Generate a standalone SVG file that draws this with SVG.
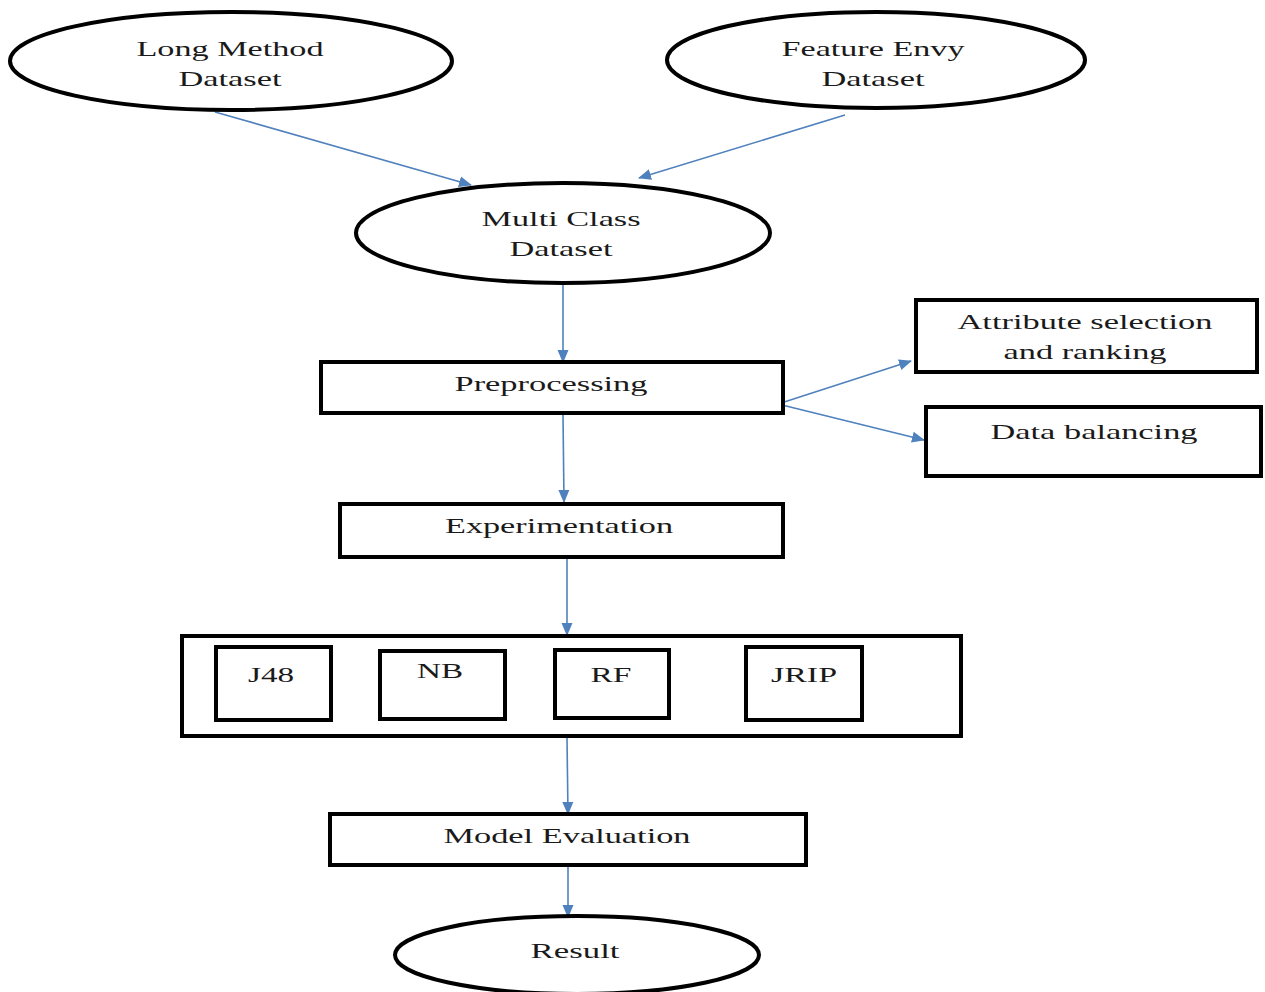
<svg xmlns="http://www.w3.org/2000/svg" width="1265" height="992" viewBox="0 0 1265 992">
<defs>
<style>
.n{fill:#fff;stroke:#000;stroke-width:4}
.t{font-family:"Liberation Serif","Times New Roman",serif;font-size:22px;fill:#1a1a1a;text-anchor:middle}
.c{stroke:#4f81bd;stroke-width:1.6;fill:none;marker-end:url(#ah)}
</style>
<marker id="ah" markerWidth="13" markerHeight="12" refX="12" refY="6" orient="auto" markerUnits="userSpaceOnUse">
<path d="M0,0.5 L13,6 L0,11.5 Z" fill="#4f81bd"/>
</marker>
</defs>
<rect width="1265" height="992" fill="#fff"/>
<g id="connectors">
<line class="c" x1="215" y1="112" x2="471" y2="185"/>
<line class="c" x1="845" y1="115" x2="639" y2="178"/>
<line class="c" x1="563" y1="285" x2="563" y2="362"/>
<line class="c" x1="778" y1="404" x2="911" y2="361"/>
<line class="c" x1="778" y1="404" x2="924" y2="440"/>
<line class="c" x1="563" y1="415" x2="564" y2="502"/>
<line class="c" x1="567" y1="559" x2="567" y2="635"/>
<line class="c" x1="567" y1="738" x2="568" y2="814"/>
<line class="c" x1="568" y1="867" x2="568" y2="917"/>
</g>
<g id="long-method">
<ellipse class="n" cx="231" cy="61" rx="221" ry="49"/>
<text class="t" transform="translate(230,56) scale(1.5,1)" textLength="124.7" lengthAdjust="spacingAndGlyphs">Long Method</text>
<text class="t" transform="translate(230,86) scale(1.5,1)" textLength="68.7" lengthAdjust="spacingAndGlyphs">Dataset</text>
</g>
<g id="feature-envy">
<ellipse class="n" cx="876" cy="60" rx="209" ry="48"/>
<text class="t" transform="translate(873,56) scale(1.5,1)" textLength="122" lengthAdjust="spacingAndGlyphs">Feature Envy</text>
<text class="t" transform="translate(873,86) scale(1.5,1)" textLength="68.7" lengthAdjust="spacingAndGlyphs">Dataset</text>
</g>
<g id="multi-class">
<ellipse class="n" cx="563" cy="233" rx="207" ry="50"/>
<text class="t" transform="translate(561,226) scale(1.5,1)" textLength="106" lengthAdjust="spacingAndGlyphs">Multi Class</text>
<text class="t" transform="translate(561,256) scale(1.5,1)" textLength="68.7" lengthAdjust="spacingAndGlyphs">Dataset</text>
</g>
<g id="preprocessing">
<rect class="n" x="321" y="362" width="462" height="51"/>
<text class="t" transform="translate(551,391) scale(1.5,1)" textLength="128.7" lengthAdjust="spacingAndGlyphs">Preprocessing</text>
</g>
<g id="attribute-selection">
<rect class="n" x="916" y="300" width="341" height="72"/>
<text class="t" transform="translate(1085,329) scale(1.5,1)" textLength="170" lengthAdjust="spacingAndGlyphs">Attribute selection</text>
<text class="t" transform="translate(1085,359) scale(1.5,1)" textLength="108.7" lengthAdjust="spacingAndGlyphs">and ranking</text>
</g>
<g id="data-balancing">
<rect class="n" x="926" y="407" width="335" height="69"/>
<text class="t" transform="translate(1094,439) scale(1.5,1)" textLength="138" lengthAdjust="spacingAndGlyphs">Data balancing</text>
</g>
<g id="experimentation">
<rect class="n" x="340" y="504" width="443" height="53"/>
<text class="t" transform="translate(559,533) scale(1.5,1)" textLength="152" lengthAdjust="spacingAndGlyphs">Experimentation</text>
</g>
<g id="classifiers">
<rect class="n" x="182" y="636" width="779" height="100"/>
</g>
<g id="j48">
<rect class="n" x="216" y="647" width="115" height="73"/>
<text class="t" transform="translate(271,682) scale(1.5,1)" textLength="30.7" lengthAdjust="spacingAndGlyphs">J48</text>
</g>
<g id="nb">
<rect class="n" x="380" y="651" width="125" height="68"/>
<text class="t" transform="translate(440,678) scale(1.5,1)" textLength="30.7" lengthAdjust="spacingAndGlyphs">NB</text>
</g>
<g id="rf">
<rect class="n" x="555" y="650" width="114" height="68"/>
<text class="t" transform="translate(611,682) scale(1.5,1)" textLength="27.3" lengthAdjust="spacingAndGlyphs">RF</text>
</g>
<g id="jrip">
<rect class="n" x="746" y="647" width="116" height="73"/>
<text class="t" transform="translate(804,682) scale(1.5,1)" textLength="44" lengthAdjust="spacingAndGlyphs">JRIP</text>
</g>
<g id="model-evaluation">
<rect class="n" x="330" y="814" width="476" height="51"/>
<text class="t" transform="translate(567,843) scale(1.5,1)" textLength="164.7" lengthAdjust="spacingAndGlyphs">Model Evaluation</text>
</g>
<g id="result">
<ellipse class="n" cx="577" cy="955" rx="182" ry="39"/>
<text class="t" transform="translate(575,958) scale(1.5,1)" textLength="59.3" lengthAdjust="spacingAndGlyphs">Result</text>
</g>
</svg>
